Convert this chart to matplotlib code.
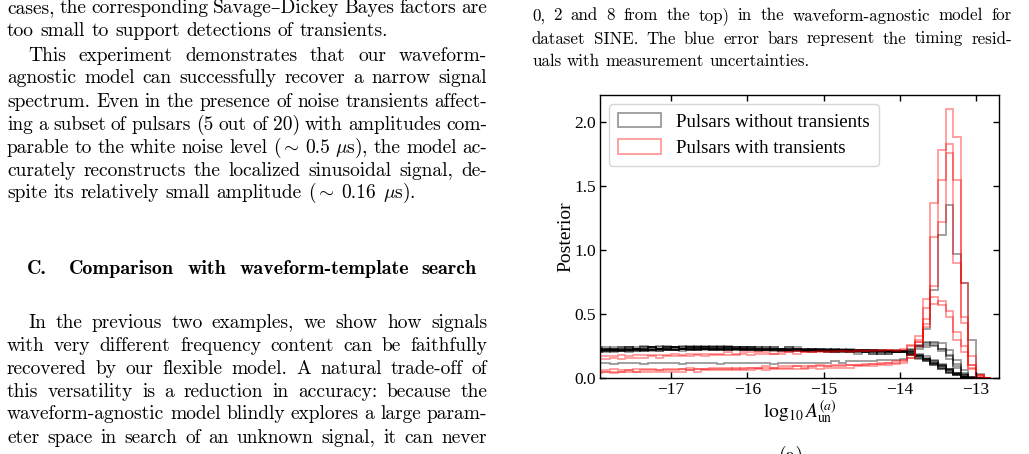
import numpy as np
import matplotlib
matplotlib.use("Agg")
import matplotlib.pyplot as plt
from matplotlib.patches import Patch
from matplotlib.ticker import FormatStrFormatter

W, H = 1029, 454

# histogram bins of log10 A_un (width 0.1)
bin_edges = np.linspace(-18.0, -12.8, 53)

# posterior heights per bin, pulsars without transients
psr_a = [0.21,0.22,0.21,0.22,0.22,0.23,0.22,0.23,0.23,0.22, 0.23,0.24,0.23,0.23,0.24,0.23,0.24,0.23,0.23,0.24,
         0.23,0.23,0.22,0.23,0.23,0.22,0.23,0.22,0.22,0.23, 0.22,0.22,0.21,0.22,0.21,0.22,0.21,0.21,0.20,0.21,
         0.20,0.19,0.17,0.15,0.12,0.09,0.06,0.03,0.01,0,0,0]
psr_b = [0.23,0.22,0.23,0.23,0.24,0.23,0.24,0.24,0.23,0.24, 0.24,0.23,0.24,0.25,0.24,0.24,0.23,0.24,0.24,0.23,
         0.24,0.23,0.23,0.24,0.22,0.23,0.23,0.22,0.23,0.22, 0.22,0.23,0.22,0.22,0.21,0.22,0.22,0.21,0.21,0.21,
         0.21,0.20,0.18,0.16,0.13,0.10,0.07,0.04,0.02,0,0,0]
psr_c = [0.20,0.21,0.20,0.21,0.21,0.22,0.21,0.22,0.22,0.23, 0.22,0.23,0.22,0.23,0.23,0.22,0.23,0.23,0.22,0.23,
         0.22,0.23,0.22,0.22,0.23,0.22,0.22,0.21,0.22,0.22, 0.21,0.22,0.21,0.21,0.22,0.21,0.20,0.21,0.21,0.20,
         0.20,0.18,0.16,0.14,0.11,0.08,0.05,0.03,0.01,0,0,0]
psr_d = [0.22,0.23,0.22,0.22,0.23,0.22,0.23,0.24,0.23,0.23, 0.24,0.23,0.24,0.24,0.23,0.24,0.25,0.24,0.23,0.24,
         0.24,0.23,0.24,0.23,0.23,0.24,0.22,0.23,0.23,0.22, 0.23,0.22,0.22,0.23,0.22,0.21,0.22,0.22,0.21,0.22,
         0.21,0.19,0.17,0.14,0.11,0.08,0.05,0.02,0.01,0,0,0]
psr_e = [0.24,0.23,0.24,0.24,0.23,0.24,0.25,0.24,0.24,0.25, 0.24,0.25,0.24,0.24,0.25,0.24,0.24,0.25,0.24,0.23,
         0.24,0.24,0.23,0.24,0.23,0.23,0.24,0.23,0.22,0.23, 0.23,0.22,0.23,0.22,0.22,0.22,0.21,0.22,0.21,0.21,
         0.21,0.20,0.19,0.17,0.14,0.11,0.07,0.04,0.01,0,0,0]
psr_f = [0.21,0.21,0.22,0.21,0.22,0.22,0.21,0.22,0.23,0.22, 0.22,0.23,0.23,0.22,0.23,0.23,0.22,0.23,0.24,0.23,
         0.23,0.22,0.23,0.23,0.22,0.23,0.22,0.22,0.23,0.22, 0.22,0.21,0.22,0.22,0.21,0.22,0.21,0.21,0.21,0.20,
         0.20,0.18,0.15,0.13,0.10,0.07,0.04,0.02,0.01,0,0,0]
psr_g = [0.22,0.22,0.23,0.22,0.23,0.23,0.22,0.23,0.23,0.24, 0.23,0.23,0.24,0.23,0.24,0.24,0.23,0.24,0.23,0.24,
         0.23,0.24,0.23,0.23,0.22,0.23,0.23,0.22,0.23,0.22, 0.22,0.22,0.21,0.22,0.22,0.21,0.22,0.21,0.21,0.21,
         0.21,0.20,0.18,0.15,0.12,0.09,0.06,0.03,0.01,0,0,0]
psr_h = [0.23,0.24,0.23,0.24,0.24,0.23,0.24,0.24,0.25,0.24, 0.24,0.24,0.25,0.24,0.24,0.25,0.24,0.24,0.23,0.24,
         0.24,0.23,0.24,0.23,0.23,0.24,0.23,0.23,0.22,0.23, 0.22,0.23,0.22,0.22,0.22,0.21,0.22,0.21,0.22,0.21,
         0.21,0.19,0.17,0.15,0.13,0.10,0.07,0.04,0.02,0.01,0,0]
psr_i = [0.20,0.20,0.21,0.21,0.20,0.21,0.22,0.21,0.21,0.22, 0.22,0.21,0.22,0.22,0.23,0.22,0.22,0.23,0.22,0.22,
         0.23,0.22,0.22,0.22,0.21,0.22,0.22,0.21,0.22,0.21, 0.21,0.21,0.22,0.21,0.21,0.20,0.21,0.21,0.20,0.21,
         0.20,0.19,0.17,0.15,0.12,0.09,0.06,0.03,0.01,0,0,0]
psr_j = [0.22,0.23,0.22,0.23,0.22,0.23,0.23,0.24,0.23,0.23, 0.24,0.23,0.23,0.24,0.23,0.23,0.24,0.23,0.24,0.23,
         0.23,0.23,0.22,0.23,0.23,0.22,0.23,0.22,0.22,0.22, 0.22,0.21,0.22,0.21,0.22,0.21,0.21,0.20,0.21,0.20,
         0.20,0.18,0.16,0.13,0.10,0.07,0.04,0.02,0.01,0,0,0]
psr_k = [0.21,0.22,0.22,0.21,0.22,0.23,0.22,0.22,0.23,0.23, 0.22,0.23,0.23,0.24,0.23,0.23,0.23,0.22,0.23,0.23,
         0.22,0.23,0.22,0.22,0.22,0.21,0.22,0.21,0.21,0.21, 0.20,0.21,0.20,0.20,0.21,0.20,0.19,0.20,0.20,0.20,
         0.21,0.22,0.24,0.26,0.28,0.27,0.22,0.14,0.06,0.01,0,0]
psr_l = [0.23,0.23,0.22,0.23,0.24,0.23,0.23,0.24,0.23,0.24, 0.24,0.23,0.24,0.23,0.24,0.23,0.23,0.24,0.23,0.22,
         0.23,0.22,0.23,0.22,0.22,0.22,0.21,0.22,0.21,0.21, 0.21,0.20,0.21,0.20,0.20,0.20,0.20,0.19,0.20,0.20,
         0.21,0.23,0.26,0.28,0.27,0.23,0.17,0.09,0.03,0,0,0]
psr_m = [0.20,0.21,0.21,0.22,0.21,0.21,0.22,0.22,0.21,0.22, 0.22,0.23,0.22,0.22,0.23,0.22,0.22,0.22,0.23,0.22,
         0.22,0.21,0.22,0.22,0.21,0.21,0.22,0.21,0.20,0.21, 0.20,0.20,0.21,0.20,0.19,0.20,0.20,0.19,0.19,0.20,
         0.20,0.21,0.23,0.24,0.25,0.23,0.18,0.11,0.04,0.01,0,0]
psr_n = [0.22,0.22,0.23,0.22,0.22,0.23,0.23,0.22,0.23,0.23, 0.24,0.23,0.23,0.23,0.22,0.23,0.23,0.22,0.23,0.22,
         0.22,0.22,0.23,0.21,0.22,0.22,0.21,0.21,0.22,0.21, 0.21,0.20,0.20,0.21,0.20,0.20,0.19,0.20,0.19,0.20,
         0.21,0.22,0.25,0.27,0.26,0.21,0.15,0.08,0.02,0,0,0]
psr_o = [0.12,0.12,0.11,0.12,0.12,0.12,0.11,0.12,0.12,0.12, 0.12,0.11,0.12,0.12,0.12,0.12,0.11,0.12,0.12,0.12,
         0.12,0.12,0.12,0.11,0.12,0.12,0.12,0.12,0.12,0.12, 0.12,0.13,0.12,0.13,0.13,0.13,0.13,0.14,0.14,0.14,
         0.15,0.20,0.25,0.38,0.69,1.12,1.35,0.97,0.74,0.30,0.03,0]

# pulsars with transients
tr_a = [0.05,0.05,0.05,0.05,0.06,0.05,0.06,0.06,0.06,0.06, 0.06,0.07,0.06,0.07,0.07,0.07,0.07,0.07,0.08,0.07,
        0.08,0.08,0.08,0.08,0.08,0.08,0.09,0.08,0.09,0.09, 0.09,0.09,0.09,0.10,0.10,0.10,0.11,0.11,0.12,0.12,
        0.13,0.16,0.25,0.40,0.72,1.22,2.10,1.88,0.74,0.17,0.02,0]
tr_b = [0.06,0.06,0.07,0.06,0.06,0.07,0.07,0.07,0.06,0.07, 0.07,0.07,0.08,0.07,0.07,0.08,0.08,0.08,0.07,0.08,
        0.08,0.08,0.09,0.08,0.09,0.09,0.09,0.09,0.09,0.10, 0.09,0.10,0.10,0.10,0.10,0.11,0.11,0.12,0.12,0.13,
        0.14,0.18,0.28,0.55,1.10,1.78,1.83,0.90,0.43,0.08,0.01,0]
tr_c = [0.04,0.05,0.04,0.05,0.05,0.05,0.05,0.05,0.05,0.05, 0.05,0.05,0.06,0.05,0.06,0.06,0.06,0.06,0.06,0.06,
        0.06,0.07,0.06,0.07,0.07,0.07,0.07,0.07,0.08,0.07, 0.08,0.08,0.08,0.08,0.09,0.09,0.09,0.10,0.10,0.11,
        0.12,0.16,0.28,0.62,1.37,1.55,1.76,1.55,0.48,0.10,0.02,0]
tr_d = [0.15,0.15,0.16,0.15,0.16,0.16,0.16,0.17,0.16,0.17, 0.17,0.17,0.17,0.18,0.17,0.18,0.18,0.18,0.18,0.19,
        0.18,0.19,0.19,0.19,0.19,0.20,0.19,0.20,0.20,0.20, 0.20,0.20,0.21,0.20,0.21,0.21,0.21,0.21,0.22,0.21,
        0.22,0.25,0.30,0.42,0.58,0.60,0.52,0.36,0.25,0.10,0.02,0]
tr_e = [0.17,0.17,0.17,0.18,0.17,0.18,0.18,0.18,0.18,0.18, 0.19,0.18,0.19,0.19,0.19,0.19,0.19,0.20,0.19,0.20,
        0.20,0.20,0.20,0.19,0.20,0.20,0.21,0.20,0.20,0.21, 0.21,0.21,0.21,0.21,0.22,0.21,0.22,0.22,0.22,0.22,
        0.23,0.26,0.33,0.46,0.63,0.57,0.48,0.30,0.20,0.07,0.01,0]

no_transients = [psr_a, psr_b, psr_c, psr_d, psr_e, psr_f, psr_g, psr_h,
                 psr_i, psr_j, psr_k, psr_l, psr_m, psr_n, psr_o]
with_transients = [tr_a, tr_b, tr_c, tr_d, tr_e]

x_ticks = [-17, -16, -15, -14, -13]
y_ticks = [0.0, 0.5, 1.0, 1.5, 2.0]

# page text around the figure
left_top = [
    "cases, the corresponding Savage–Dickey Bayes factors are",
    "too small to support detections of transients.",
    "This experiment demonstrates that our waveform-",
    "agnostic model can successfully recover a narrow signal",
    "spectrum. Even in the presence of noise transients affect-",
    "ing a subset of pulsars (5 out of 20) with amplitudes com-",
    r"parable to the white noise level ($\sim$ 0.5 $\mu$s), the model ac-",
    "curately reconstructs the localized sinusoidal signal, de-",
    r"spite its relatively small amplitude ($\sim$ 0.16 $\mu$s).",
]
left_bottom = [
    "In the previous two examples, we show how signals",
    "with very different frequency content can be faithfully",
    "recovered by our flexible model.  A natural trade-off of",
    "this versatility is a reduction in accuracy: because the",
    "waveform-agnostic model blindly explores a large param-",
    "eter space in search of an unknown signal, it can never",
]
caption = [
    "0, 2 and 8 from the top) in the waveform-agnostic model for",
    "dataset SINE. The blue error bars represent the timing resid-",
    "uals with measurement uncertainties.",
]

plt.rcParams['font.family'] = ['Liberation Serif', 'DejaVu Serif']
plt.rcParams['mathtext.fontset'] = 'stix'

fig = plt.figure(figsize=(W / 100, H / 100), dpi=100)
renderer = fig.canvas.get_renderer()

body = dict(family=['cmr10', 'DejaVu Serif'], fontsize=14.0, color='black',
            math_fontfamily='cm', va='baseline', ha='left')
small = dict(body, fontsize=12.2)
head = dict(body, family=['cmb10', 'DejaVu Serif'], fontsize=14.4)


def put_line(line, x0, x1, y, justify=True, **kw):
    words = line.split()
    texts = [fig.text(0, 1 - y / H, w, **kw) for w in words]
    widths = [t.get_window_extent(renderer).width for t in texts]
    if justify and len(words) > 1:
        gap = (x1 - x0 - sum(widths)) / (len(words) - 1)
    else:
        gap = kw['fontsize'] * 100 / 72 * 0.333
    x = x0
    for t, w in zip(texts, widths):
        t.set_x(x / W)
        x += w + gap


def put_par(lines, x0, x1, ys, indent_first, ends, **kw):
    for k, (line, y) in enumerate(zip(lines, ys)):
        start = x0 + 21 if k in indent_first else x0
        put_line(line, start, x1, y, justify=k not in ends, **kw)


put_par(left_top, 7, 487, [13.3, 35.7, 61, 83.3, 106.7, 130, 152.7, 175.7, 198.3],
        {2}, {1, 8}, **body)
put_par(left_bottom, 7, 487, [328.3, 350.7, 374, 396.7, 419.3, 442.7],
        {0}, set(), **body)
put_par(caption, 532, 1012, [20.5, 43.5, 66.5], set(), {2}, **small)
fig.text(27 / W, 1 - 274.3 / H, "C.", **head)
put_line("Comparison with waveform-template search", 69, 477, 274.3, **head)
fig.text(791 / W, 1 - 446 / H, "(a)", **dict(body, va='top', ha='center'))

# chart
ax = fig.add_axes([600 / W, 1 - 378 / H, 399 / W, 283 / H])
for vals in no_transients:
    ax.stairs(vals, bin_edges, color='black', alpha=0.4, lw=1.3)
for vals in with_transients:
    ax.stairs(vals, bin_edges, color='red', alpha=0.4, lw=1.3)

ax.set_xlim(-17.93, -12.70)
ax.set_ylim(0, 2.21)
ax.set_xticks(x_ticks)
ax.set_yticks(y_ticks)
ax.yaxis.set_major_formatter(FormatStrFormatter('%.1f'))
ax.tick_params(direction='in', top=True, right=True, length=4, width=1,
               labelsize=12.5, pad=3)
for sp in ax.spines.values():
    sp.set_linewidth(1.0)
ax.set_xlabel(r"$\log_{10} A_{\rm un}^{(a)}$", fontsize=14, labelpad=0)
ax.set_ylabel("Posterior", fontsize=14, labelpad=0)

handles = [Patch(facecolor='none', edgecolor='black', alpha=0.4, lw=1.3),
           Patch(facecolor='none', edgecolor='red', alpha=0.4, lw=1.3)]
ax.legend(handles, ["Pulsars without transients", "Pulsars with transients"],
          loc='upper left', fontsize=13.6, handlelength=2.3, handleheight=0.8,
          handletextpad=0.8, labelspacing=0.45, borderpad=0.45)

fig.savefig("out.png", dpi=100)
